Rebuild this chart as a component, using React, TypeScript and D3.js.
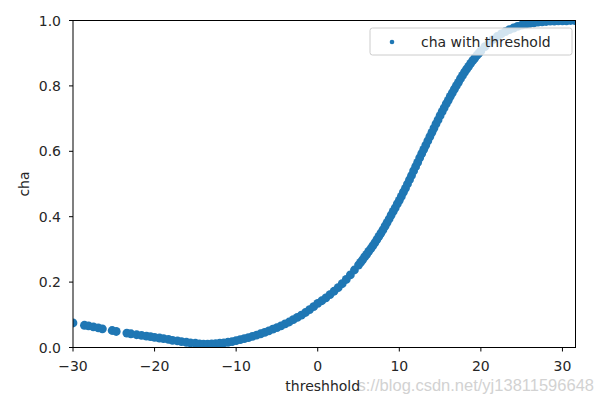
import React from "react";
import * as d3 from "d3";

const sparseX = [-30, -28.6, -28.1, -27.5, -26.9, -26.4, -25.2, -24.7, -23.4, -22.9, -22.2, -21.6, -21.0, -20.5, -20.0, -19.4, -18.9, -18.3, -17.8, -17.2, -16.7, -16.1, -15.6, -15.0];
const sparseY = [0.075, 0.068, 0.066, 0.063, 0.060, 0.057, 0.052, 0.049, 0.044, 0.042, 0.039, 0.037, 0.035, 0.033, 0.031, 0.029, 0.027, 0.025, 0.022, 0.020, 0.018, 0.016, 0.014, 0.013];

const denseX = [
  -14.5, -14, -13.5, -13, -12.5, -12, -11.5, -11, -10.5, -10, -9.5, -9, -8.5, -8, -7.5, -7, -6.5, -6, -5.5, -5,
  -4.5, -4, -3.5, -3, -2.5, -2, -1.5, -1, -0.5, 0, 0.5, 1, 1.5, 2, 2.5, 3, 3.5, 4, 4.5,
  5, 5.25, 5.5, 5.75, 6, 6.25, 6.5, 6.75, 7, 7.25, 7.5, 7.75, 8, 8.25, 8.5, 8.75, 9, 9.25, 9.5, 9.75,
  10, 10.25, 10.5, 10.75, 11, 11.25, 11.5, 11.75, 12, 12.25, 12.5, 12.75, 13, 13.25, 13.5, 13.75,
  14, 14.25, 14.5, 14.75, 15, 15.25, 15.5, 15.75, 16, 16.25, 16.5, 16.75, 17, 17.25, 17.5, 17.75,
  18, 18.25, 18.5, 18.75, 19, 19.25, 19.5, 19.75, 20,
  20.5, 21, 21.5, 22, 22.5, 23, 23.5, 24, 24.5, 25, 25.5, 26, 26.5, 27, 27.5, 28, 28.5, 29, 29.5, 30, 30.5, 31, 31.5,
];
const denseY = [
  0.011, 0.010, 0.010, 0.011, 0.012, 0.013, 0.014, 0.016, 0.018, 0.021, 0.024, 0.027, 0.030, 0.034, 0.038, 0.042, 0.046, 0.051, 0.056, 0.061,
  0.066, 0.072, 0.078, 0.085, 0.092, 0.099, 0.107, 0.116, 0.125, 0.135, 0.143, 0.152, 0.162, 0.172, 0.183, 0.195, 0.208, 0.222, 0.237,
  0.252, 0.260, 0.268, 0.277, 0.285, 0.294, 0.302, 0.311, 0.320, 0.330, 0.340, 0.350, 0.360, 0.371, 0.382, 0.393, 0.405, 0.416, 0.427, 0.439,
  0.450, 0.462, 0.475, 0.487, 0.500, 0.513, 0.526, 0.540, 0.553, 0.566, 0.580, 0.593, 0.606, 0.619, 0.632, 0.645,
  0.658, 0.671, 0.684, 0.696, 0.709, 0.721, 0.733, 0.745, 0.756, 0.768, 0.779, 0.790, 0.801, 0.811, 0.822, 0.832,
  0.842, 0.851, 0.860, 0.869, 0.877, 0.885, 0.893, 0.900, 0.907,
  0.920, 0.932, 0.942, 0.951, 0.959, 0.966, 0.972, 0.977, 0.982, 0.986, 0.989, 0.991, 0.993, 0.995, 0.996, 0.997, 0.998, 0.998, 0.999, 0.999, 0.999, 1.0, 1.0,
];

const xTicks = [-30, -20, -10, 0, 10, 20, 30];
const yTicks = [0.0, 0.2, 0.4, 0.6, 0.8, 1.0];
const seriesName = "cha with threshold";
const xLabel = "threshhold";
const yLabel = "cha";
const watermark = "https://blog.csdn.net/yj13811596648";

const W = 603, H = 402;
const L = 73, R = 575.5, T = 20.5, B = 347.5;
const FONT = "DejaVu Sans, sans-serif";
const BLUE = "#1f77b4";

export default function App() {
  const x = d3.scaleLinear().domain([-30, 31.6]).range([L, R]);
  const y = d3.scaleLinear().domain([0, 1]).range([B, T]);
  const xs = [...sparseX, ...denseX];
  const ys = [...sparseY, ...denseY];
  const fmtX = (v: number) => (v < 0 ? "\u2212" + Math.abs(v) : String(v));
  const fmtY = (v: number) => v.toFixed(1);

  return (
    <svg width={W} height={H} style={{ position: "absolute", left: 0, top: 0, background: "#fff" }} fontFamily={FONT}>
      <defs>
        <clipPath id="plotclip">
          <rect x={L} y={T} width={R - L} height={B - T} />
        </clipPath>
      </defs>
      <rect x={0} y={0} width={W} height={H} fill="#fff" />
      <g clipPath="url(#plotclip)">
        {xs.map((xv, i) => (
          <circle key={i} cx={x(xv)} cy={y(ys[i])} r={4.4} fill={BLUE} />
        ))}
      </g>
      <rect x={L} y={T} width={R - L} height={B - T} fill="none" stroke="#000" strokeWidth={1} />
      {xTicks.map((t) => (
        <g key={"x" + t}>
          <line x1={x(t)} x2={x(t)} y1={B} y2={B + 4} stroke="#000" />
          <text x={x(t)} y={371} textAnchor="middle" fontSize={14} fill="#262626">{fmtX(t)}</text>
        </g>
      ))}
      {yTicks.map((t) => (
        <g key={"y" + t}>
          <line x1={L - 4} x2={L} y1={y(t)} y2={y(t)} stroke="#000" />
          <text x={61} y={y(t) + 5} textAnchor="end" fontSize={14} fill="#262626">{fmtY(t)}</text>
        </g>
      ))}
      <text x={594} y={391} textAnchor="end" fontSize={16.5} fontFamily="Liberation Sans, Arial, sans-serif" fill="#d2d2d2">{watermark}</text>
      <rect x={282} y={376} width={76} height={20} fill="#fff" />
      <text x={(L + R) / 2 - 1.5} y={391} textAnchor="middle" fontSize={14} fill="#262626">{xLabel}</text>
      <text transform={`translate(29,${(T + B) / 2}) rotate(-90)`} textAnchor="middle" fontSize={14} fill="#262626">{yLabel}</text>
      <g>
        <rect x={370} y={28} width={202} height={27} rx={2.5} fill="rgba(255,255,255,0.8)" stroke="#cccccc" strokeWidth={1} />
        <circle cx={392} cy={42} r={2.3} fill={BLUE} />
        <text x={421} y={47} fontSize={14} fill="#262626">{seriesName}</text>
      </g>
    </svg>
  );
}
